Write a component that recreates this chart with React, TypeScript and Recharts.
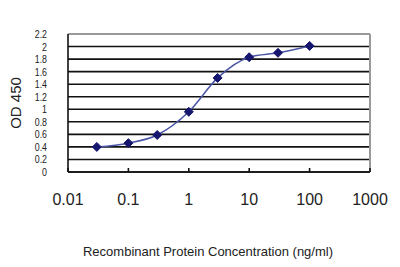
import {
  LineChart,
  Line,
  XAxis,
  YAxis,
  CartesianGrid,
  ReferenceLine,
} from 'recharts';

const concentrations = [0.03, 0.1, 0.3, 1, 3, 10, 30, 100];
const odValues = [0.4, 0.46, 0.59, 0.96, 1.5, 1.83, 1.9, 2.01];
const xTicks = [0.01, 0.1, 1, 10, 100, 1000];
const yTicks = [0, 0.2, 0.4, 0.6, 0.8, 1, 1.2, 1.4, 1.6, 1.8, 2, 2.2];

const chartData = concentrations.map((c, i) => ({ conc: c, od: odValues[i] }));

const font = "Arial, 'Liberation Sans', sans-serif";

function YTick(props: any) {
  const { x, y, payload } = props;
  return (
    <text
      transform={`translate(${x},${y}) scale(0.8,1)`}
      textAnchor="end"
      dy="0.36em"
      fontSize={11}
      fontFamily={font}
      fill="#222"
    >
      {String(payload.value)}
    </text>
  );
}

function Diamond(props: any) {
  const { cx, cy, index } = props;
  if (cx == null || cy == null) return <g key={index} />;
  const r = 4.5;
  return (
    <path
      key={index}
      d={`M${cx},${cy - r}L${cx + r},${cy}L${cx},${cy + r}L${cx - r},${cy}Z`}
      fill="#16166e"
      stroke="#16166e"
    />
  );
}

function App() {
  return (
    <div style={{ position: 'absolute', left: 0, top: 0, background: '#fff' }}>
      <LineChart
        width={400}
        height={267}
        data={chartData}
        margin={{ top: 34, right: 30, left: 0, bottom: 0 }}
      >
        <CartesianGrid vertical={false} stroke="#111" strokeWidth={1.6} />
        <XAxis
          dataKey="conc"
          type="number"
          scale="log"
          domain={[0.01, 1000]}
          ticks={xTicks}
          allowDataOverflow
          height={95}
          tickSize={-4}
          tickMargin={26}
          stroke="#111"
          strokeWidth={1.6}
          tick={{ fontSize: 16, fontFamily: font, fill: '#222' }}
          tickFormatter={(v: number) => String(v)}
          label={{
            value: 'Recombinant Protein Concentration (ng/ml)',
            position: 'insideBottom',
            offset: 11,
            dx: -11,
            fontSize: 13,
            fontFamily: font,
            fill: '#222',
          }}
        />
        <YAxis
          type="number"
          domain={[0, 2.2]}
          ticks={yTicks}
          width={68}
          tickSize={0}
          tickLine={false}
          tickMargin={21}
          stroke="#111"
          strokeWidth={1.6}
          tick={<YTick />}
          interval={0}
          label={{
            value: 'OD 450',
            angle: -90,
            position: 'center',
            dx: -18,
            fontSize: 15,
            fontFamily: font,
            fill: '#222',
          }}
        />
        <ReferenceLine y={2.2} stroke="#999" strokeWidth={2} />
        <ReferenceLine x={1000} stroke="#999" strokeWidth={2} />
        <Line
          type="monotone"
          dataKey="od"
          stroke="#4a56a6"
          strokeWidth={1.5}
          dot={<Diamond />}
          isAnimationActive={false}
        />
      </LineChart>
    </div>
  );
}

export default App;
